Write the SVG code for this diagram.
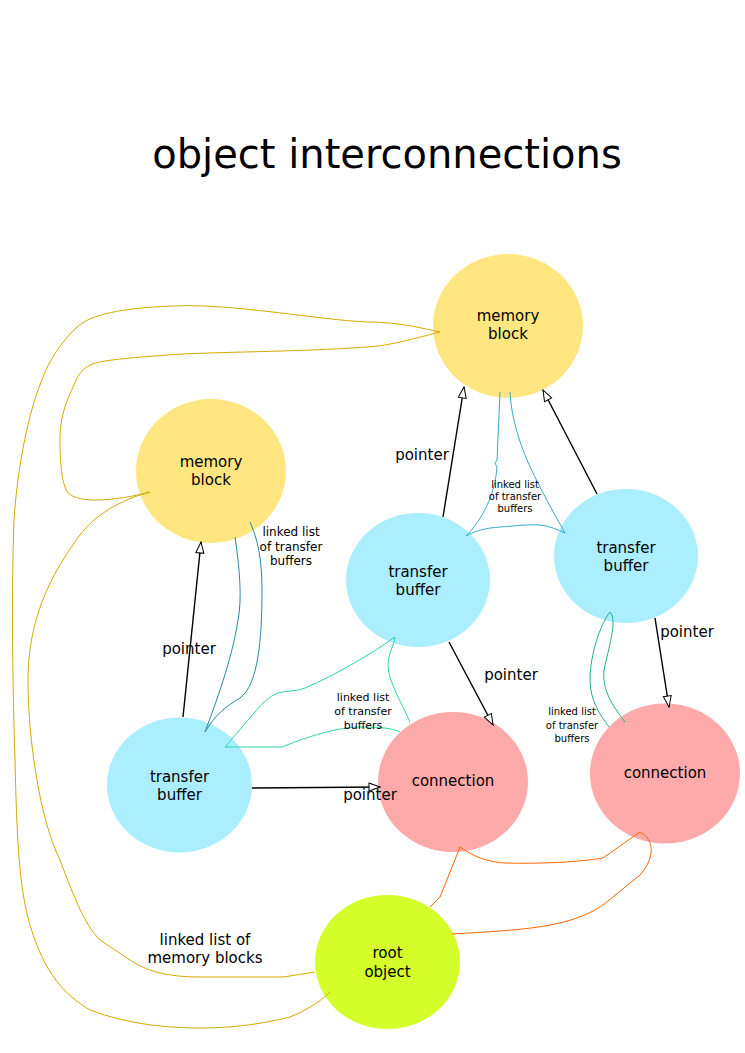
<svg xmlns="http://www.w3.org/2000/svg" width="745" height="1053" viewBox="0 0 745 1053">
<defs>
<style>
text{font-family:"DejaVu Sans","Liberation Sans",sans-serif;fill:#000;text-anchor:middle}
.t{font-size:15px}
.s12{font-size:12px}
.s11{font-size:11px}
.s10{font-size:10px}
.title{font-size:40px}
.mem{fill:#ffe680}
.tb{fill:#aaeeff}
.con{fill:#ffaaaa}
.root{fill:#d4ff2a}
.ptr{fill:none;stroke:#000;stroke-width:1.4;marker-end:url(#arr)}
.thin{fill:none;stroke-width:1}
</style>
<marker id="arr" viewBox="-1 -1 13 10" markerUnits="userSpaceOnUse" markerWidth="13" markerHeight="10" refX="11" refY="4" orient="auto">
<path d="M0,0 L11,4 L0,8 Z" fill="#fff" stroke="#000" stroke-width="1"/>
</marker>
</defs>
<rect width="745" height="1053" fill="#fff"/>
<text class="title" x="387" y="168">object interconnections</text>

<g id="node-mem-top"><ellipse class="mem" cx="508" cy="326" rx="75" ry="72"/><text class="t" x="508" y="321">memory</text><text class="t" x="508" y="339">block</text></g>
<g id="node-mem-left"><ellipse class="mem" cx="211" cy="471" rx="75" ry="72"/><text class="t" x="211" y="467">memory</text><text class="t" x="211" y="485">block</text></g>
<g id="node-tb-mid"><ellipse class="tb" cx="418" cy="580" rx="72" ry="67"/><text class="t" x="418" y="577">transfer</text><text class="t" x="418" y="595">buffer</text></g>
<g id="node-tb-right"><ellipse class="tb" cx="626" cy="556" rx="72" ry="67"/><text class="t" x="626" y="553">transfer</text><text class="t" x="626" y="571">buffer</text></g>
<g id="node-tb-left"><ellipse class="tb" cx="179.5" cy="785" rx="72.5" ry="67.5"/><text class="t" x="179.5" y="782">transfer</text><text class="t" x="179.5" y="800">buffer</text></g>
<g id="node-con-mid"><ellipse class="con" cx="453" cy="782" rx="75" ry="70"/><text class="t" x="453" y="786">connection</text></g>
<g id="node-con-right"><ellipse class="con" cx="665" cy="773.5" rx="75" ry="70"/><text class="t" x="665" y="778">connection</text></g>
<g id="node-root"><ellipse class="root" cx="387.5" cy="962" rx="72.5" ry="67"/><text class="t" x="387.5" y="958">root</text><text class="t" x="387.5" y="977">object</text></g>

<g id="connectors">
<path class="thin" stroke="#d4aa00" d="M440,332 C425,329 400,322 367,322 C320,320 230,303 173,306 C120,308 90,315 77,327 C55,348 45,370 40,385 C30,410 18,460 14,520 C11,600 13,700 15,760 C17,850 20,890 30,925 C45,975 65,995 90,1010 C130,1025 170,1028 200,1028 C240,1028 270,1022 290,1017 C305,1011 320,1002 330,992"/>
<path class="thin" stroke="#d4aa00" d="M440,332 C420,337 390,346 367,347 C300,352 200,352 167,355 C130,358 100,360 90,365 C83,369 80,373 77,378 C70,395 60,410 60,440 C60,465 62,480 66,490 C70,497 80,500 95,500 C115,500 135,496 150,492"/>
<path class="thin" stroke="#d4aa00" d="M150,492 C120,500 95,515 80,535 C50,575 28,620 28,680 C28,740 40,820 60,860 C75,900 85,925 100,940 L130,960 C145,970 165,977 200,977 L283,977 L315,972"/>
<path class="thin" stroke="#37abc8" d="M500,392 L497,460 L495,463 L497,467 C495,495 482,520 466,536 C475,531 485,528 500,527 C515,526 530,524 540,525 C550,526 558,530 565,533 C555,515 535,480 525,455 C515,430 511,410 510,392"/>
<path class="thin" stroke="#2c89a0" d="M235,537 C240,570 242,600 238,620 C232,660 215,705 205,732 C215,715 225,707 240,698 C258,685 262,640 262,590 C262,560 258,540 250,522"/>
<path class="thin" stroke="#2ad4aa" d="M410,722 C400,700 388,680 388,665 C388,655 394,645 395,637 C370,655 335,675 305,688 C295,692 285,690 275,694 C265,700 260,706 255,712 L225,747 L282,747 C300,740 330,728 360,727 C380,727 392,728 400,732"/>
<path class="thin" stroke="#1fae8d" d="M609,727 C600,715 590,700 590,680 C590,655 600,625 610,612 C618,620 608,650 604,670 C602,690 612,705 625,722"/>
<path class="thin" stroke="#ff6600" d="M430,907 L440,897 L460,847 C475,858 490,862 505,863 C540,864 580,862 603,858 L640,832 C655,840 655,858 640,875 L603,905 C570,928 520,930 452,934"/>
<path class="ptr" d="M443,517 L464,387"/>
<path class="ptr" d="M597,494 L543,390"/>
<path class="ptr" d="M183,717 L201,542"/>
<path class="ptr" d="M252,788 L380,787"/>
<path class="ptr" d="M449,642 L493,725"/>
<path class="ptr" d="M655,618 L669,707"/>
<text class="t" x="422" y="460">pointer</text>
<text class="t" x="189" y="654">pointer</text>
<text class="t" x="370" y="800">pointer</text>
<text class="t" x="511" y="680">pointer</text>
<text class="t" x="687" y="637">pointer</text>
<text class="t" x="205" y="945">linked list of</text>
<text class="t" x="205" y="963">memory blocks</text>
<text class="s10" x="515" y="488">linked list</text><text class="s10" x="515" y="500">of transfer</text><text class="s10" x="515" y="512">buffers</text>
<text class="s12" x="291" y="536">linked list</text><text class="s12" x="291" y="551">of transfer</text><text class="s12" x="291" y="565">buffers</text>
<text class="s11" x="363" y="701">linked list</text><text class="s11" x="363" y="715">of transfer</text><text class="s11" x="363" y="729">buffers</text>
<text class="s10" x="572" y="715">linked list</text><text class="s10" x="572" y="729">of transfer</text><text class="s10" x="572" y="742">buffers</text>
</g>
</svg>
